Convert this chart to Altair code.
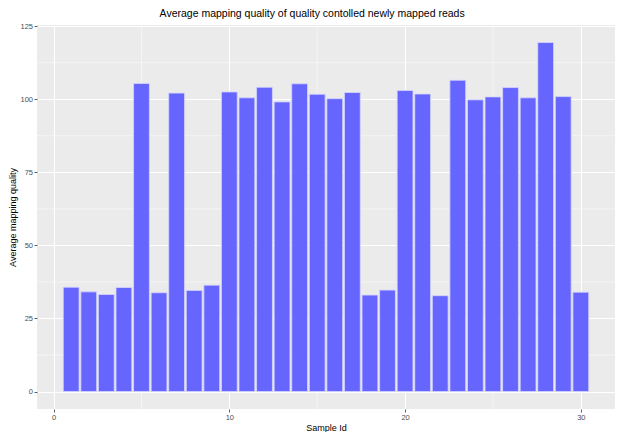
import altair as alt
import pandas as pd

sample_ids = list(range(1, 31))
avg_mapq = [35.7, 34.1, 33.2, 35.6, 105.4, 33.8, 102.1, 34.6, 36.4, 102.5,
            100.5, 104.1, 99.1, 105.3, 101.7, 100.2, 102.3, 33.0, 34.7, 103.0,
            101.8, 32.8, 106.5, 99.8, 100.8, 104.0, 100.5, 119.4, 100.9, 34.0]

x_major = [0, 10, 20, 30]
x_minor = [5, 15, 25]
y_major = [0, 25, 50, 75, 100, 125]
y_minor = [12.5, 37.5, 62.5, 87.5, 112.5]

df = pd.DataFrame({"id": sample_ids, "q": avg_mapq})

x_scale = alt.Scale(domain=[-0.945, 31.945], nice=False, zero=False)
y_scale = alt.Scale(domain=[-5.97, 125.4], nice=False, zero=False)

axis_common = dict(
    grid=True, gridColor="white", gridWidth=1.1,
    domain=False, tickColor="#333333", tickSize=3, tickWidth=0.8,
    labelColor="#4D4D4D", labelFontSize=7.5, labelFont="Liberation Sans",
    titleFont="Liberation Sans", titleFontSize=9, titleFontWeight="normal",
    titleColor="black", labelPadding=1.5,
)

xminor = alt.Chart(pd.DataFrame({"v": x_minor})).mark_rule(
    color="white", strokeWidth=0.5
).encode(x=alt.X("v:Q", scale=x_scale))

yminor = alt.Chart(pd.DataFrame({"v": y_minor})).mark_rule(
    color="white", strokeWidth=0.5
).encode(y=alt.Y("v:Q", scale=y_scale))

bars = alt.Chart(df).transform_calculate(
    x0="datum.id - 0.45", x1="datum.id + 0.45", base="0"
).mark_bar(color="#6666FF", stroke="#D6D6FF", strokeWidth=0.8).encode(
    x=alt.X("x0:Q", scale=x_scale,
            axis=alt.Axis(values=x_major, title="Sample Id", titlePadding=2,
                          **axis_common)),
    x2="x1:Q",
    y=alt.Y("q:Q", scale=y_scale,
            axis=alt.Axis(values=y_major, title="Average mapping quality",
                          titlePadding=2, **axis_common)),
    y2="base:Q",
)

chart = alt.layer(xminor, yminor, bars).properties(
    width=608, height=424,
    autosize=alt.AutoSizeParams(type="fit", contains="padding"),
    padding={"left": 0, "top": 0, "right": 0, "bottom": 0},
    background="white",
    title=alt.TitleParams(
        "Average mapping quality of quality contolled newly mapped reads",
        font="Liberation Sans", fontSize=10.5, fontWeight="normal",
        color="black", anchor="middle", frame="bounds", offset=3,
    ),
).configure_view(fill="#EBEBEB", strokeWidth=0)

chart.save("out.html", embed_options={"renderer": "svg", "actions": False})
